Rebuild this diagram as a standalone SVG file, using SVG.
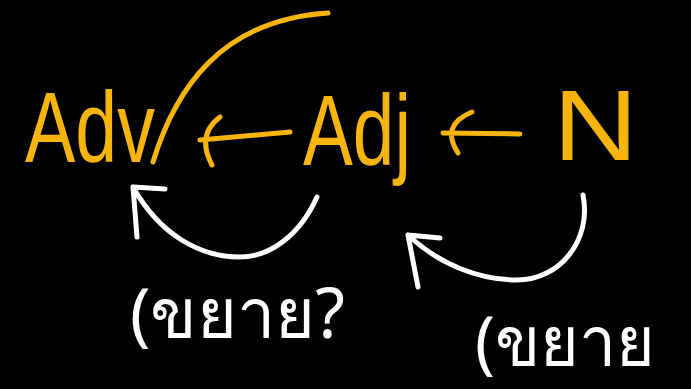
<svg xmlns="http://www.w3.org/2000/svg" width="691" height="389" viewBox="0 0 691 389">
<style>
.y{fill:none;stroke:#F7B50C;stroke-width:5;stroke-linecap:round;stroke-linejoin:round}
.w{fill:none;stroke:#FFFFFF;stroke-width:5;stroke-linecap:round;stroke-linejoin:round}
.ylab{fill:#F7B50C;font-family:"Liberation Sans","DejaVu Sans",sans-serif;font-size:100px}
.wlab{fill:#FFFFFF;font-family:"Noto Sans","DejaVu Sans",sans-serif;font-size:70px}
</style>
<rect width="691" height="389" fill="#000000"/>
<g id="node-adv">
<text class="ylab" x="25" y="162" textLength="130" lengthAdjust="spacingAndGlyphs">Adv</text>
</g>
<g id="node-adj">
<text class="ylab" x="303" y="165" textLength="108" lengthAdjust="spacingAndGlyphs">Adj</text>
</g>
<g id="node-n">
<text class="ylab" x="553" y="160" textLength="85" lengthAdjust="spacingAndGlyphs">N</text>
</g>
<g id="label-1">
<text class="wlab" x="130" y="338" textLength="215" lengthAdjust="spacingAndGlyphs">(ขยาย?</text>
</g>
<g id="label-2">
<text class="wlab" x="475" y="366" textLength="180" lengthAdjust="spacingAndGlyphs">(ขยาย</text>
</g>
<g id="connectors">
<path class="y" d="M153,162 C175,90 220,20 328,13"/>
<path class="y" d="M290,132 L200,140 M220,117 Q196,135 212,165"/>
<path class="y" d="M520,134 L443,133 M472,112 Q440,125 458,153"/>
<path class="w" d="M317,197 C300,235 270,257 240,257 C200,257 160,235 133,187 M165,189 L133,187 L137,237"/>
<path class="w" d="M583,195 C592,240 560,280 517,280 C480,280 440,265 408,235 M440,238 L408,235 L418,287"/>
</g>
</svg>
